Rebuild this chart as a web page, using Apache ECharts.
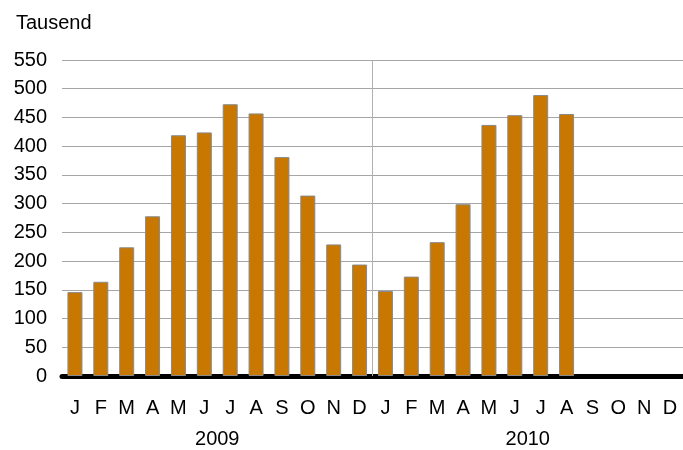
<!DOCTYPE html>
<html>
<head>
<meta charset="utf-8">
<script src="https://cdn.jsdelivr.net/npm/echarts@6/dist/echarts.min.js"></script>
<style>
html, body { margin: 0; padding: 0; background: #fff; }
#chart { width: 683px; height: 450px; }
</style>
</head>
<body>
<div id="chart"></div>
<script>
// Monatswerte in Tausend, 2009 und 2010 (ab Sep 2010 keine Daten)
var months = ['J','F','M','A','M','J','J','A','S','O','N','D',
              'J','F','M','A','M','J','J','A','S','O','N','D'];
var years = ['2009', '2010'];
var values2009 = [146, 164, 224, 278, 419, 424, 473, 457, 381, 314, 229, 194];
var values2010 = [148, 173, 233, 299, 437, 454, 489, 456, null, null, null, null];
var yTicks = { min: 0, max: 550, interval: 50 };

var barData = values2009.concat(values2010);

var myChart = echarts.init(document.getElementById('chart'));
var font = 'Liberation Sans, Arial, sans-serif';

myChart.setOption({
    animation: false,
    title: {
        text: 'Tausend',
        left: 11,
        top: 8,
        textStyle: { fontFamily: font, fontSize: 20, fontWeight: 'normal', color: '#000' }
    },
    grid: { left: 62, right: 0, top: 60, bottom: 74, containLabel: false },
    xAxis: [{
        type: 'category',
        data: months,
        axisLine: { lineStyle: { color: '#000', width: 5 } },
        axisTick: { show: false },
        axisLabel: { interval: 0, margin: 22, fontFamily: font, fontSize: 20, color: '#000' }
    }, {
        type: 'category',
        data: years,
        position: 'bottom',
        axisLine: { show: false },
        axisTick: { show: false },
        axisLabel: { interval: 0, margin: 53, fontFamily: font, fontSize: 20, color: '#000' }
    }, {
        // hilfsachse fuer die Trennlinie zwischen den Jahren
        type: 'value',
        min: 0,
        max: months.length,
        show: false
    }],
    yAxis: {
        type: 'value',
        min: yTicks.min,
        max: yTicks.max,
        interval: yTicks.interval,
        axisLine: { show: false },
        axisTick: { show: false },
        axisLabel: { margin: 15, fontFamily: font, fontSize: 20, color: '#000' },
        splitLine: { lineStyle: { color: '#a6a6a6', width: 1 } }
    },
    series: [{
        type: 'bar',
        xAxisIndex: 0,
        data: barData,
        barWidth: 15,
        itemStyle: { color: '#c87800', borderColor: '#8a8a8a', borderWidth: 1 }
    }, {
        type: 'line',
        xAxisIndex: 2,
        data: [],
        silent: true,
        markLine: {
            silent: true,
            symbol: 'none',
            label: { show: false },
            lineStyle: { color: '#b0b0b0', width: 1, type: 'solid' },
            data: [{ xAxis: values2009.length }]
        }
    }]
});
</script>
</body>
</html>
